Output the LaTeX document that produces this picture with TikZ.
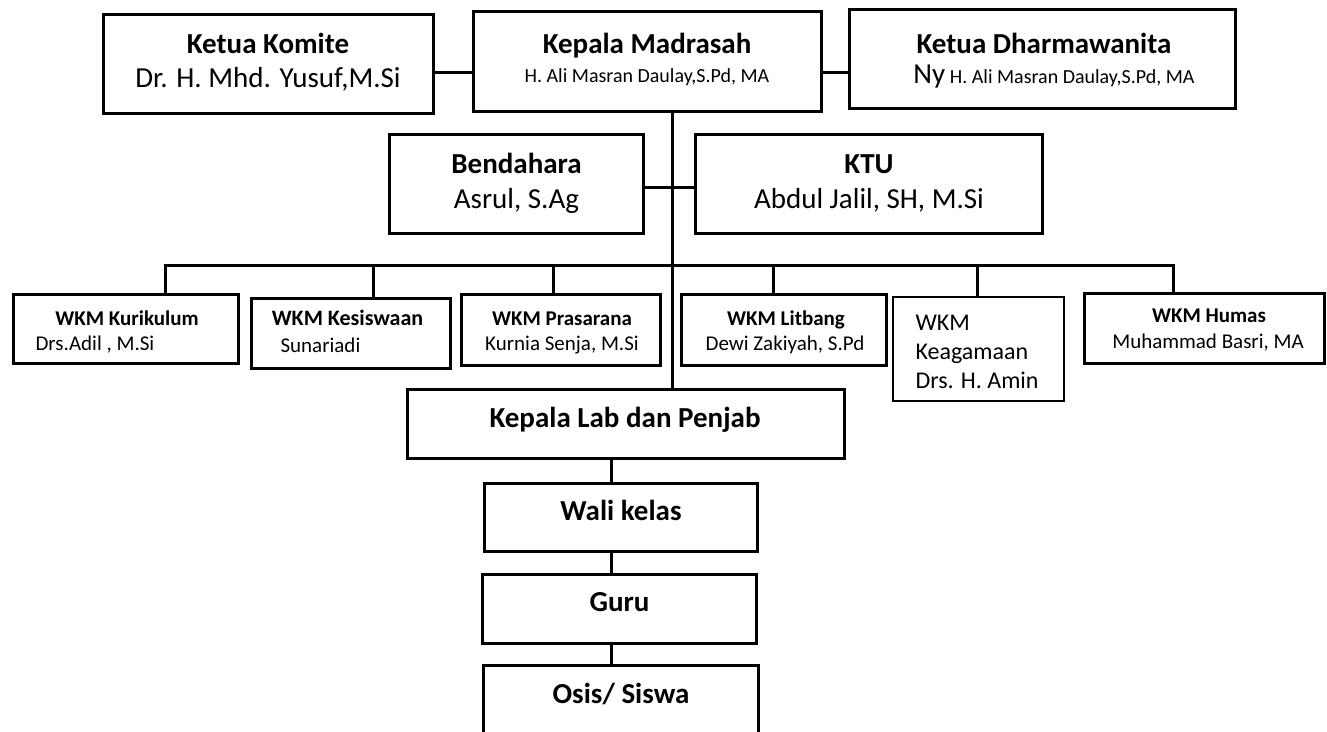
\documentclass[tikz,border=0pt]{standalone}
\usepackage{fontspec}
\setmainfont{Carlito}
\tikzset{
  box/.style={draw, line width=3pt, inner sep=0pt},
  thinbox/.style={draw, line width=1.5pt, inner sep=0pt},
  link/.style={line width=3pt},
  hd/.style={anchor=base, font=\fontsize{29}{29}\selectfont\bfseries},
  nm/.style={anchor=base, font=\fontsize{29}{29}\selectfont},
  nms/.style={anchor=base, font=\fontsize{20}{20}\selectfont},
  whd/.style={anchor=base, font=\fontsize{21}{21}\selectfont\bfseries},
  wnm/.style={anchor=base, font=\fontsize{21}{21}\selectfont},
}

\begin{document}
\begin{tikzpicture}[x=1pt,y=-1pt]
\useasboundingbox (0,0) rectangle (1327,731);
\clip (0,0) rectangle (1327,731);

% Top row
\node[box, minimum width=330pt, minimum height=99pt] (kom) at (268.5,64) {};
\node[box, minimum width=348pt, minimum height=100pt] (kep) at (647.5,61.5) {};
\node[box, minimum width=386pt, minimum height=99pt] (dha) at (1042.5,59) {};
\node[hd] (kom-h) at (268,53) {Ketua Komite};
\node[nm] (kom-n) at (268,87) {Dr. H. Mhd. Yusuf,M.Si};
\node[hd] (kep-h) at (647,53) {Kepala Madrasah};
\node[nms] (kep-n) at (647,82) {H. Ali Masran Daulay,S.Pd, MA};
\node[hd] (dha-h) at (1044,53) {Ketua Dharmawanita};
\node[nms] (dha-n) at (1054,83) {{\fontsize{29}{29}\selectfont Ny} H. Ali Masran Daulay,S.Pd, MA};

% Bendahara and KTU
\node[box, minimum width=254pt, minimum height=99pt] (ben) at (516.5,184) {};
\node[box, minimum width=347pt, minimum height=99pt] (ktu) at (869,184) {};
\node[hd] (ben-h) at (516.5,173) {Bendahara};
\node[nm] (ben-n) at (516.5,208) {Asrul, S.Ag};
\node[hd] (ktu-h) at (869,173) {KTU};
\node[nm] (ktu-n) at (869,208) {Abdul Jalil, SH, M.Si};

% WKM row
\node[box, minimum width=225pt, minimum height=69pt] (kur) at (126,329) {};
\node[box, minimum width=199pt, minimum height=70pt] (kes) at (351,333.5) {};
\node[box, minimum width=199pt, minimum height=71pt] (pra) at (561,330) {};
\node[box, minimum width=205pt, minimum height=71pt] (lit) at (784,330) {};
\node[thinbox, minimum width=171pt, minimum height=104pt] (aga) at (978.5,349) {};
\node[box, minimum width=240pt, minimum height=70pt] (hum) at (1204.5,328.5) {};
\node[whd] (kur-h) at (127,325) {WKM Kurikulum};
\node[wnm, anchor=base west] (kur-n) at (32,350) {Drs.Adil , M.Si};
\node[whd, font=\fontsize{22}{22}\selectfont\bfseries] (kes-h) at (347.5,325) {WKM Kesiswaan};
\node[wnm, anchor=base west] (kes-n) at (277,352) {Sunariadi};
\node[whd] (pra-h) at (562,325) {WKM Prasarana};
\node[wnm] (pra-n) at (562,350) {Kurnia Senja, M.Si};
\node[whd] (lit-h) at (786,325) {WKM Litbang};
\node[wnm] (lit-n) at (785,350) {Dewi Zakiyah, S.Pd};
\node[anchor=base west, font=\fontsize{24}{29}\selectfont, align=left] (aga-n) at (912,388)
  {WKM\\Keagamaan\\Drs. H. Amin};
\node[whd] (hum-h) at (1209,322) {WKM Humas};
\node[wnm] (hum-n) at (1208,348) {Muhammad Basri, MA};

% Lower column
\node[box, minimum width=437pt, minimum height=69pt] (lab) at (626,423.5) {};
\node[box, minimum width=273pt, minimum height=68pt] (wal) at (621,517.5) {};
\node[box, minimum width=274pt, minimum height=69pt] (gur) at (619.5,609) {};
\node[box, minimum width=275pt, minimum height=80pt] (osi) at (621,705.5) {};
\node[hd] (lab-h) at (625,427) {Kepala Lab dan Penjab};
\node[hd] (wal-h) at (621,520) {Wali kelas};
\node[hd] (gur-h) at (619.5,611) {Guru};
\node[hd] (osi-h) at (621,703) {Osis/ Siswa};

% Connectors
\coordinate (trunk) at (672,0);
\coordinate (bus) at (672,265);
\coordinate (spine) at (611,0);
\draw[link] ([yshift=-8pt]kom.east) -- ([yshift=-8pt]kom.east -| kep.west);
\draw[link] ([yshift=-10.5pt]kep.east) -- ([yshift=-10.5pt]kep.east -| dha.west);
\draw[link] (kep.south -| trunk) -- (lab.north -| trunk);
\draw[link] ([yshift=-3pt]ben.east) -- ([yshift=-3pt]ktu.west);
\foreach \n/\d in {kur/39, kes/22, pra/-8, lit/-11, aga/-1.5, hum/-31.5}
  \draw[link] ([xshift=\d pt]\n.north) |- (bus);
\draw[link] (lab.south -| spine) -- (wal.north -| spine);
\draw[link] (wal.south -| spine) -- (gur.north -| spine);
\draw[link] (gur.south -| spine) -- (osi.north -| spine);
\end{tikzpicture}
\end{document}
